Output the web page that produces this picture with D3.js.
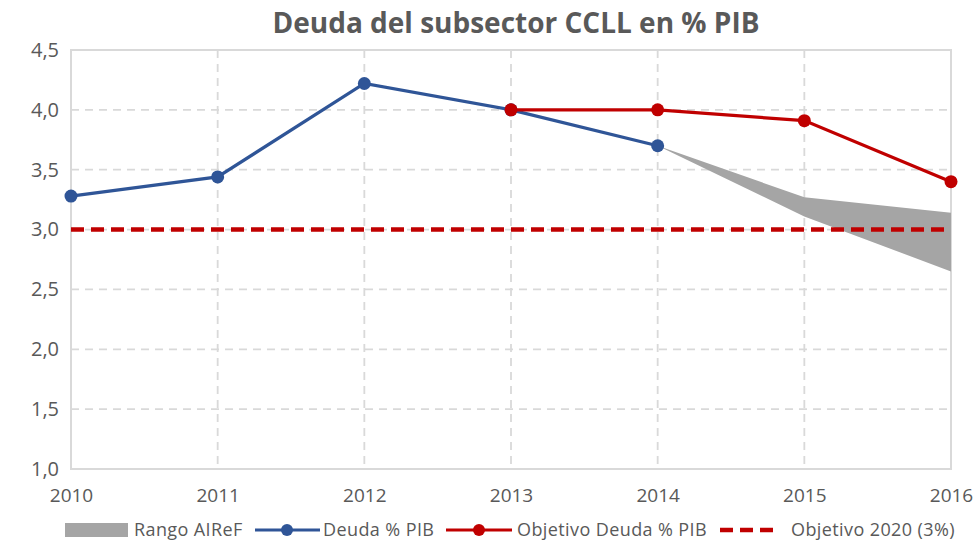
<!DOCTYPE html>
<html><head><meta charset="utf-8">
<script src="https://cdn.jsdelivr.net/npm/d3@7"></script>
<style>body{margin:0;background:#fff}svg{display:block}text{font-family:"Open Sans",sans-serif;fill:#595959}</style>
</head><body><svg id="c" width="979" height="544"></svg>
<script>
const years = [2010, 2011, 2012, 2013, 2014, 2015, 2016];
const deuda = [3.28, 3.44, 4.22, 4.0, 3.7];
const objetivo = [null, null, null, 4.0, 4.0, 3.91, 3.4];
const rangoLow = [null, null, null, null, 3.7, 3.11, 2.65];
const rangoHigh = [null, null, null, null, 3.7, 3.27, 3.14];
const objetivo2020 = [3, 3, 3, 3, 3, 3, 3];
const yTicks = [1.0, 1.5, 2.0, 2.5, 3.0, 3.5, 4.0, 4.5];
const title = "Deuda del subsector CCLL en % PIB";
const legendLabels = ["Rango AIReF", "Deuda % PIB", "Objetivo Deuda % PIB", "Objetivo 2020 (3%)"];

const svg = d3.select("#c");
const x = d3.scalePoint().domain(years).range([71, 951]);
const y = d3.scaleLinear().domain([1, 4.5]).range([469, 50]);
const blue = "#2F5597", red = "#C00000", grey = "#A5A5A5", grid = "#D9D9D9";
const fmt = v => d3.format(".1f")(v).replace(".", ",");

// gridlines
const g = svg.append("g");
g.selectAll(".hg").data(yTicks.filter(t => t > 1 && t < 4.5)).join("line")
  .attr("x1", 71).attr("x2", 951).attr("y1", d => y(d)).attr("y2", d => y(d))
  .attr("stroke", grid).attr("stroke-width", 1.8).attr("stroke-dasharray", "8,6");
g.selectAll(".vg").data(years.slice(1, -1)).join("line")
  .attr("x1", d => x(d)).attr("x2", d => x(d)).attr("y1", 50).attr("y2", 469)
  .attr("stroke", grid).attr("stroke-width", 1.8).attr("stroke-dasharray", "8,6");
g.append("rect").attr("x", 71).attr("y", 50).attr("width", 880).attr("height", 419)
  .attr("fill", "none").attr("stroke", grid).attr("stroke-width", 2);

// axes
const yAxis = d3.axisLeft(y).tickValues(yTicks).tickFormat(fmt).tickSize(0).tickPadding(12);
const ya = svg.append("g").attr("transform", "translate(71,0)").call(yAxis);
ya.select(".domain").remove();
ya.selectAll("text").style("font-size", "20px").attr("fill", "#595959");
const xAxis = d3.axisBottom(x).tickFormat(d3.format("d")).tickSize(0).tickPadding(20);
const xa = svg.append("g").attr("transform", "translate(0,469)").call(xAxis);
xa.select(".domain").remove();
xa.selectAll("text").style("font-size", "19px").attr("fill", "#595959");

// range area
const rangeData = years.map((yr, i) => ({yr, lo: rangoLow[i], hi: rangoHigh[i]})).filter(d => d.lo != null);
svg.append("path").datum(rangeData)
  .attr("d", d3.area().x(d => x(d.yr)).y0(d => y(d.lo)).y1(d => y(d.hi)))
  .attr("fill", grey);

// objective 2020
svg.append("path").datum(years.map((yr, i) => ({yr, v: objetivo2020[i]})))
  .attr("d", d3.line().x(d => x(d.yr)).y(d => y(d.v)))
  .attr("fill", "none").attr("stroke", red).attr("stroke-width", 4.5).attr("stroke-dasharray", "13,7");

// deuda
const dData = deuda.map((v, i) => ({yr: years[i], v}));
svg.append("path").datum(dData).attr("d", d3.line().x(d => x(d.yr)).y(d => y(d.v)))
  .attr("fill", "none").attr("stroke", blue).attr("stroke-width", 3.2);
svg.selectAll(".dm").data(dData).join("circle").attr("cx", d => x(d.yr)).attr("cy", d => y(d.v)).attr("r", 6.5).attr("fill", blue);

// objetivo
const oData = years.map((yr, i) => ({yr, v: objetivo[i]})).filter(d => d.v != null);
svg.append("path").datum(oData).attr("d", d3.line().x(d => x(d.yr)).y(d => y(d.v)))
  .attr("fill", "none").attr("stroke", red).attr("stroke-width", 3.2);
svg.selectAll(".om").data(oData).join("circle").attr("cx", d => x(d.yr)).attr("cy", d => y(d.v)).attr("r", 6.5).attr("fill", red);

// title
svg.append("text").attr("x", 516).attr("y", 33).attr("text-anchor", "middle")
  .style("font-size", "28px").style("font-weight", "bold").attr("fill", "#595959").text(title);

// legend
const ly = 530;
const L = svg.append("g");
const lt = (xx, s) => L.append("text").attr("x", xx).attr("y", ly + 6).style("font-size", "18px").style("letter-spacing", "0.4px").text(s);
L.append("rect").attr("x", 65).attr("y", ly - 7).attr("width", 63).attr("height", 14).attr("fill", grey);
lt(134, legendLabels[0]);
L.append("line").attr("x1", 255).attr("x2", 320).attr("y1", ly).attr("y2", ly).attr("stroke", blue).attr("stroke-width", 3.2);
L.append("circle").attr("cx", 287).attr("cy", ly).attr("r", 6).attr("fill", blue);
lt(323, legendLabels[1]);
L.append("line").attr("x1", 446).attr("x2", 512).attr("y1", ly).attr("y2", ly).attr("stroke", red).attr("stroke-width", 3.2);
L.append("circle").attr("cx", 479).attr("cy", ly).attr("r", 6).attr("fill", red);
lt(517, legendLabels[2]);
L.append("line").attr("x1", 720).attr("x2", 779).attr("y1", ly).attr("y2", ly).attr("stroke", red).attr("stroke-width", 4.5).attr("stroke-dasharray", "13,7");
lt(791, legendLabels[3]);
</script></body></html>
